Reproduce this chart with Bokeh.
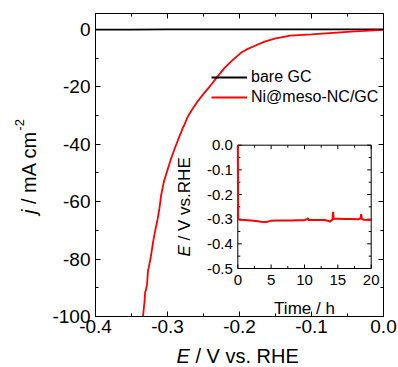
import math
from bokeh.plotting import figure
from bokeh.models import Range1d, LinearAxis, FixedTicker, Legend, LegendItem, Label
from bokeh.layouts import row, column
from bokeh.embed import file_html
from bokeh.resources import INLINE
from bokeh.core.properties import value

# ---------------- data ----------------
bare_E = [-0.40, -0.35, -0.30, -0.25, -0.20, -0.15, -0.10, -0.05, 0.00]
bare_j = [-0.10, -0.08, -0.06, -0.05, -0.04, -0.03, -0.02, -0.01, 0.00]

ni_E = [0.000, -0.020, -0.040, -0.060, -0.080, -0.100, -0.130, -0.140, -0.150,
        -0.166, -0.180, -0.190, -0.198, -0.210, -0.221, -0.230, -0.240, -0.250,
        -0.259, -0.266, -0.272, -0.277, -0.279, -0.280, -0.283, -0.290, -0.295,
        -0.300, -0.305, -0.309, -0.311, -0.314, -0.317, -0.320, -0.323, -0.326,
        -0.327, -0.3285, -0.330, -0.331, -0.332, -0.334, -0.335]
ni_j = [-0.2, -0.45, -0.75, -1.05, -1.4, -1.75, -2.2, -2.7, -3.2,
        -4.4, -5.9, -7.0, -8.2, -10.8, -13.5, -16.3, -19.5, -22.5,
        -25.4, -28.0, -30.5, -33.5, -34.5, -35.2, -37.0, -41.5, -45.0,
        -49.0, -53.0, -58.0, -62.0, -66.5, -70.0, -74.0, -79.0, -83.0,
        -83.8, -89.0, -90.8, -91.5, -95.0, -100.0, -102.0]

t_h = [0.0, 0.05, 0.2, 1.0, 2.0, 3.0, 3.5, 4.0, 4.5, 5.0, 6.0, 7.0, 8.0, 9.0,
       10.0, 10.4, 10.5, 10.6, 11.0, 12.0, 13.0, 13.5, 13.8, 14.0, 14.2, 14.25,
       14.3, 14.35, 14.5, 15.0, 16.0, 17.0, 18.0, 18.4, 18.5, 18.6, 19.0, 20.0]
E_t = [0.0, -0.300, -0.302, -0.303, -0.305, -0.308, -0.310, -0.311, -0.310,
       -0.306, -0.305, -0.305, -0.305, -0.304, -0.304, -0.300, -0.295, -0.303,
       -0.303, -0.303, -0.303, -0.306, -0.310, -0.305, -0.302, -0.285, -0.270,
       -0.300, -0.298, -0.298, -0.299, -0.299, -0.300, -0.297, -0.280, -0.300,
       -0.302, -0.303]

x_ticks = [-0.4, -0.3, -0.2, -0.1, 0.0]
x_tick_labels = ["-0.4", "-0.3", "-0.2", "-0.1", "0.0"]
x_minor = [-0.35, -0.25, -0.15, -0.05]
y_ticks = [-100, -80, -60, -40, -20, 0]
y_tick_labels = ["-100", "-80", "-60", "-40", "-20", "0"]
y_minor = [-90, -70, -50, -30, -10]
x_lim = (-0.4, 0.0)
y_lim = (-100, 5.5)

inset_x_ticks = [0, 5, 10, 15, 20]
inset_x_labels = ["0", "5", "10", "15", "20"]
inset_x_minor = [2.5, 7.5, 12.5, 17.5]
inset_y_ticks = [-0.5, -0.4, -0.3, -0.2, -0.1, 0.0]
inset_y_labels = ["-0.5", "-0.4", "-0.3", "-0.2", "-0.1", "0.0"]
inset_y_minor = [-0.45, -0.35, -0.25, -0.15, -0.05]
inset_x_lim = (0, 20)
inset_y_lim = (-0.5, 0.0)

legend_labels = ["bare GC", "Ni@meso-NC/GC"]

# ---------------- layout constants (px) ----------------
FONT = "Liberation Sans"
TOTAL_W, TOTAL_H = 398, 367
WL = 45                 # width of the strip holding the y title
HM = 341                # height of the main figure
MW = TOTAL_W - WL       # main figure width
BL, BR, BT, BB = 50, 15, 13, 25
FW, FH = MW - BL - BR, HM - BT - BB
FRAME_BOTTOM = BT + FH  # picture y of the main frame bottom
# inset frame relative to main frame (x from left, y from bottom)
IL, IR, IB, IT = 142.3, 275.7, 48.0, 171.3

p = figure(width=MW, height=HM, x_range=Range1d(*x_lim), y_range=Range1d(*y_lim),
           output_backend="svg", toolbar_location=None,
           min_border_left=BL, min_border_top=BT,
           min_border_right=BR, min_border_bottom=BB)
p.title.visible = False
p.xgrid.visible = False
p.ygrid.visible = False
p.outline_line_color = "black"
p.background_fill_color = "white"
p.border_fill_color = "white"


def style_axis(ax, ticks, minor, labels, show):
    ax.ticker = FixedTicker(ticks=ticks, minor_ticks=minor)
    ax.major_label_overrides = {t: l for t, l in zip(ticks, labels)}
    ax.axis_line_color = "black"
    ax.axis_line_width = 1
    ax.major_tick_in = 5
    ax.major_tick_out = 0
    ax.minor_tick_in = 3
    ax.minor_tick_out = 0
    ax.major_tick_line_color = "black"
    ax.minor_tick_line_color = "black"
    if show:
        ax.major_label_text_font = FONT
        ax.major_label_text_font_size = "19px"
        ax.major_label_text_color = "black"
    else:
        ax.major_label_text_color = None
        ax.major_label_text_font_size = "1px"
        ax.major_label_standoff = 0


style_axis(p.xaxis[0], x_ticks, x_minor, x_tick_labels, True)
p.xaxis[0].major_label_standoff = 3
style_axis(p.yaxis[0], y_ticks, y_minor, y_tick_labels, True)
p.yaxis[0].major_label_standoff = 5
top_ax = LinearAxis()
style_axis(top_ax, x_ticks, x_minor, x_tick_labels, False)
p.add_layout(top_ax, "above")
right_ax = LinearAxis()
style_axis(right_ax, y_ticks, y_minor, y_tick_labels, False)
p.add_layout(right_ax, "right")

# main curves
r_bare = p.line(bare_E, bare_j, line_color="black", line_width=1.8)
r_ni = p.line(ni_E, ni_j, line_color="#ff0000", line_width=1.8)

leg = Legend(items=[LegendItem(label=legend_labels[0], renderers=[r_bare]),
                    LegendItem(label=legend_labels[1], renderers=[r_ni])],
             location=(116, 209), glyph_width=36, glyph_height=20,
             label_height=20, label_width=10, label_standoff=4, spacing=0,
             padding=0, margin=0, border_line_color=None,
             background_fill_alpha=0, label_text_font=FONT,
             label_text_font_size="16px", label_text_color="black")
p.add_layout(leg, "center")

# ---------------- inset (own ranges) ----------------
dxp = (inset_x_lim[1] - inset_x_lim[0]) / (IR - IL)
dyp = (inset_y_lim[1] - inset_y_lim[0]) / (IT - IB)
p.extra_x_ranges = {"ix": Range1d(inset_x_lim[0] - IL * dxp, inset_x_lim[1] + (FW - IR) * dxp)}
p.extra_y_ranges = {"iy": Range1d(inset_y_lim[0] - IB * dyp, inset_y_lim[1] + (FH - IT) * dyp)}
kw = dict(x_range_name="ix", y_range_name="iy")

p.quad(left=[inset_x_lim[0]], right=[inset_x_lim[1]], bottom=[inset_y_lim[0]],
       top=[inset_y_lim[1]], fill_color="white", line_color="black", line_width=1, **kw)

MAJ, MIN = 4, 2.5


def xticks_seg(ticks, L):
    n = len(ticks)
    p.segment(x0=ticks, x1=ticks, y0=[inset_y_lim[0]] * n, y1=[inset_y_lim[0] + L * dyp] * n,
              line_color="black", line_width=1, **kw)
    p.segment(x0=ticks, x1=ticks, y0=[inset_y_lim[1]] * n, y1=[inset_y_lim[1] - L * dyp] * n,
              line_color="black", line_width=1, **kw)


def yticks_seg(ticks, L):
    n = len(ticks)
    p.segment(y0=ticks, y1=ticks, x0=[inset_x_lim[0]] * n, x1=[inset_x_lim[0] + L * dxp] * n,
              line_color="black", line_width=1, **kw)
    p.segment(y0=ticks, y1=ticks, x0=[inset_x_lim[1]] * n, x1=[inset_x_lim[1] - L * dxp] * n,
              line_color="black", line_width=1, **kw)


xticks_seg(inset_x_ticks, MAJ)
xticks_seg(inset_x_minor, MIN)
yticks_seg(inset_y_ticks, MAJ)
yticks_seg(inset_y_minor, MIN)

p.line(t_h, E_t, line_color="#ff0000", line_width=2, **kw)

p.text(x=inset_x_ticks, y=[inset_y_lim[0]] * len(inset_x_ticks), text=inset_x_labels,
       text_align="center", text_baseline="top", y_offset=6,
       text_font=value(FONT), text_font_size="15px", text_color="black", **kw)
p.text(x=[inset_x_lim[0]] * len(inset_y_ticks), y=inset_y_ticks, text=inset_y_labels,
       text_align="right", text_baseline="middle", x_offset=-5,
       text_font=value(FONT), text_font_size="15px", text_color="black", **kw)

R = math.pi / 2


def lab(fig, text, x, y, size, italic=False, angle=0.0, align="left", baseline="alphabetic"):
    fig.add_layout(Label(x=x, y=y, x_units="screen", y_units="screen", text=text,
                         angle=angle, text_align=align, text_baseline=baseline,
                         text_font=FONT, text_font_size=f"{size}px",
                         text_font_style="italic" if italic else "normal",
                         text_color="black"))


# inset titles (inside the main frame)
lab(p, "Time / h", (IL + IR) / 2, 7.7, 17, align="center")
lab(p, "E", 89, 60.1, 17, italic=True, angle=R, baseline="middle")
lab(p, "/ V vs.RHE", 89, 76.1, 17, angle=R, baseline="middle")


def strip(w, h, bt=0, bb=0):
    f = figure(width=w, height=h, x_range=Range1d(0, w), y_range=Range1d(0, h - bt - bb),
               output_backend="svg", toolbar_location=None,
               x_axis_type=None, y_axis_type=None,
               min_border_left=0, min_border_right=0, min_border_top=bt, min_border_bottom=bb)
    f.title.visible = False
    f.xgrid.visible = False
    f.ygrid.visible = False
    f.outline_line_color = None
    f.background_fill_color = "white"
    f.border_fill_color = "white"
    return f


# y title strip (left of main figure); its frame matches the main frame vertically
ys = strip(WL, HM, BT, BB)
lab(ys, "j", 28, FRAME_BOTTOM - 213.5, 20, italic=True, angle=R, baseline="middle")
lab(ys, "/ mA cm", 28, FRAME_BOTTOM - 203.5, 20, angle=R, baseline="middle")
lab(ys, "-2", 19, FRAME_BOTTOM - 130.2, 13, angle=R, baseline="middle")

# x title strip (below)
XH = TOTAL_H - HM
xs = strip(TOTAL_W, XH)
lab(xs, "E", 176, 11.7, 20, italic=True)
lab(xs, "/ V vs. RHE", 194.9, 11.7, 20)

layout = column(row(ys, p, spacing=0), xs, spacing=0)
open("out.html", "w").write(file_html(layout, INLINE))
